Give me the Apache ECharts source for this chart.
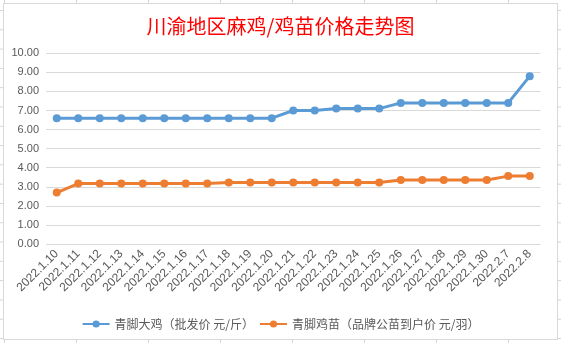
<!DOCTYPE html>
<html>
<head>
<meta charset="utf-8">
<script src="https://cdn.jsdelivr.net/npm/echarts@6/dist/echarts.min.js"></script>
<style>
html,body{margin:0;padding:0;width:561px;height:343px;overflow:hidden;background:#fff;}
body{
  background-image:
    linear-gradient(to right, #d4d4d4 1px, transparent 1px),
    linear-gradient(to bottom, #d4d4d4 1px, transparent 1px);
  background-size:72px 19.3px;
  background-position:4px 10px;
}
#chart{position:absolute;left:3px;top:3px;width:553px;height:335px;border:1px solid #d9d9d9;background:#fff;}
</style>
</head>
<body>
<div id="chart"></div>
<script>
var titleText = '川渝地区麻鸡/鸡苗价格走势图';
var categories = ['2022.1.10','2022.1.11','2022.1.12','2022.1.13','2022.1.14','2022.1.15','2022.1.16','2022.1.17','2022.1.18','2022.1.19','2022.1.20','2022.1.21','2022.1.22','2022.1.23','2022.1.24','2022.1.25','2022.1.26','2022.1.27','2022.1.28','2022.1.29','2022.1.30','2022.2.7','2022.2.8'];
var seriesNames = ['青脚大鸡（批发价 元/斤）','青脚鸡苗（品牌公苗到户价 元/羽）'];
var chickenPrice = [6.6,6.6,6.6,6.6,6.6,6.6,6.6,6.6,6.6,6.6,6.6,7.0,7.0,7.1,7.1,7.1,7.4,7.4,7.4,7.4,7.4,7.4,8.8];
var chickPrice = [2.7,3.17,3.17,3.17,3.17,3.17,3.17,3.17,3.22,3.22,3.22,3.22,3.22,3.22,3.22,3.22,3.36,3.36,3.36,3.36,3.36,3.56,3.56];

var font = '"Liberation Sans","Noto Sans CJK SC",sans-serif';
var chart = echarts.init(document.getElementById('chart'));
chart.setOption({
  animation:false,
  backgroundColor:'#fff',
  title:{
    text:titleText,
    left:'center',
    top:7,
    textStyle:{color:'#ff0000',fontSize:20,fontWeight:'normal',fontFamily:'"Noto Sans CJK SC",sans-serif'}
  },
  legend:{
    left:'center',
    top:309,
    itemWidth:27,
    itemHeight:9,
    itemGap:5,
    textStyle:{color:'#595959',fontSize:12,fontFamily:'"Noto Sans CJK SC",sans-serif'},
    data:seriesNames
  },
  grid:{left:42,right:16.5,top:49.3,bottom:95,containLabel:false},
  xAxis:{
    type:'category',
    data:categories,
    boundaryGap:true,
    axisLine:{show:false},
    axisTick:{show:false},
    axisLabel:{rotate:45,interval:0,color:'#595959',fontSize:12,fontFamily:font,margin:8}
  },
  yAxis:{
    type:'value',
    min:0,max:10,interval:1,
    axisLine:{show:false},
    axisTick:{show:false},
    axisLabel:{color:'#595959',fontSize:11,fontFamily:font,margin:7,formatter:function(v){return v.toFixed(2);}},
    splitLine:{lineStyle:{color:'#d9d9d9',width:1}}
  },
  series:[
    {name:seriesNames[0],type:'line',data:chickenPrice,symbol:'circle',symbolSize:8,
     itemStyle:{color:'#5b9bd5'},lineStyle:{color:'#5b9bd5',width:3}},
    {name:seriesNames[1],type:'line',data:chickPrice,symbol:'circle',symbolSize:8,
     itemStyle:{color:'#ed7d31'},lineStyle:{color:'#ed7d31',width:3}}
  ]
});
</script>
</body>
</html>
